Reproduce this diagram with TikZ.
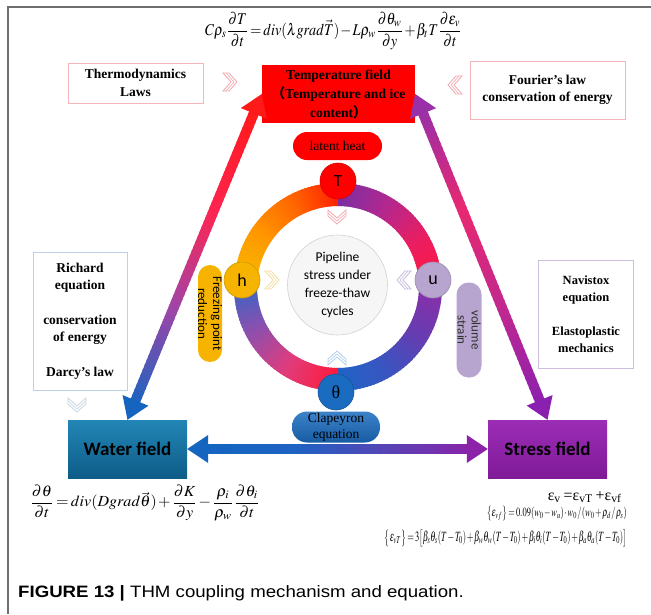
\documentclass[tikz,border=0pt]{standalone}
\usepackage{mathptmx}
\usepackage{fontspec}
\setmainfont{Liberation Serif}
\newfontfamily\carl{Carlito}
\newfontfamily\capfont{Liberation Sans}
\newfontfamily\cjkf{Noto Sans CJK SC}
\usepackage{graphicx}
\usetikzlibrary{calc}

\definecolor{framegray}{HTML}{6E6E6E}
\definecolor{pinkb}{HTML}{F4B4BA}
\definecolor{blueb}{HTML}{BCD2EA}
\definecolor{lavb}{HTML}{CDBEDF}
\definecolor{tred}{HTML}{FF0000}
\definecolor{gold}{HTML}{F6B400}
\definecolor{lav}{HTML}{B7A5CF}
\definecolor{tblue}{HTML}{1A6CC0}
\definecolor{wtop}{HTML}{2286B6}
\definecolor{wbot}{HTML}{0E5C88}
\definecolor{sftop}{HTML}{9C2DB6}
\definecolor{sfbot}{HTML}{7F1A98}
\definecolor{chpink}{HTML}{F4A8B0}
\definecolor{chyel}{HTML}{F5DCA0}
\definecolor{chlav}{HTML}{C9BAE0}
\definecolor{chblue}{HTML}{B2D0EE}
\definecolor{chgray}{HTML}{C8D6E4}
% ring colours
\definecolor{ulA}{HTML}{F7B800}\definecolor{ulB}{HTML}{FF9800}\definecolor{ulC}{HTML}{FF6600}\definecolor{ulD}{HTML}{FF1E00}
\definecolor{urA}{HTML}{7A2EA3}\definecolor{urB}{HTML}{B02890}\definecolor{urC}{HTML}{E81E63}\definecolor{urD}{HTML}{FF1744}
\definecolor{lrA}{HTML}{8E2FA8}\definecolor{lrB}{HTML}{6A3AB0}\definecolor{lrC}{HTML}{3A55C0}\definecolor{lrD}{HTML}{1E64C8}
\definecolor{llA}{HTML}{FF1A3A}\definecolor{llB}{HTML}{E03C7C}\definecolor{llC}{HTML}{8A50B0}\definecolor{llD}{HTML}{2A6AC8}
% arrow colours
\definecolor{laA}{HTML}{FF1A1A}\definecolor{laB}{HTML}{FF2450}\definecolor{laC}{HTML}{A045A8}\definecolor{laD}{HTML}{1565C0}
\definecolor{raA}{HTML}{9A30A8}\definecolor{raB}{HTML}{E82870}\definecolor{raC}{HTML}{C02890}\definecolor{raD}{HTML}{8A20B0}
\definecolor{haA}{HTML}{1565C0}\definecolor{haB}{HTML}{1E62C2}\definecolor{haC}{HTML}{5545B5}\definecolor{haD}{HTML}{8B22A8}

\newcommand\setgcol[5]{%
  \pgfmathsetmacro\mygS{3*#1}%
  \pgfmathtruncatemacro\mygK{min(floor(\mygS),2)}%
  \pgfmathsetmacro\mygF{100*(1-(\mygS-\mygK))}%
  \ifcase\mygK \colorlet{gcol}{#2!\mygF!#3}\or \colorlet{gcol}{#3!\mygF!#4}\or \colorlet{gcol}{#4!\mygF!#5}\fi}

\newcommand\gradarrow[6]{%
  \coordinate (gs1) at ($(#1)!16pt!(#2)$);
  \coordinate (gs2) at ($(#2)!16pt!(#1)$);
  \foreach \i in {0,...,59}{
    \pgfmathsetmacro\myta{\i/60}
    \pgfmathsetmacro\mytb{min((\i+1.6)/60,1)}
    \setgcol{\myta}{#3}{#4}{#5}{#6}
    \draw[line width=10pt, color=gcol] ($(gs1)!\myta!(gs2)$) -- ($(gs1)!\mytb!(gs2)$);
  }
  \coordinate (gh1) at ($(#1)!21pt!(#2)$);
  \fill[#3] (#1) -- ($(gh1)!14pt!90:(#1)$) -- ($(gh1)!14pt!-90:(#1)$) -- cycle;
  \coordinate (gh2) at ($(#2)!21pt!(#1)$);
  \fill[#6] (#2) -- ($(gh2)!14pt!90:(#2)$) -- ($(gh2)!14pt!-90:(#2)$) -- cycle;
}

\newcommand\ringarc[6]{%
  \foreach \i in {0,...,44}{
    \pgfmathsetmacro\myta{\i/45}
    \pgfmathsetmacro\myaa{#1+(#2-#1)*\i/45}
    \pgfmathsetmacro\myab{#1+(#2-#1)*(\i+1.5)/45}
    \setgcol{\myta}{#3}{#4}{#5}{#6}
    \fill[color=gcol] (\myaa:104pt) arc[start angle=\myaa, end angle=\myab, radius=104pt]
      -- (\myab:81pt) arc[start angle=\myab, end angle=\myaa, radius=81pt] -- cycle;
  }}

\newcommand\tightmath{\medmuskip=1.5mu\thickmuskip=2.5mu\thinmuskip=1mu}

\tikzset{
  lawbox/.style={draw, line width=0.9pt, fill=white, align=center, inner sep=0pt,
    font=\bfseries\fontsize{13.5}{17.5}\selectfont},
  fieldbox/.style={align=center, inner sep=0pt, font=\carl\bfseries\fontsize{19}{22}\selectfont,
    minimum width=119pt, minimum height=58pt},
  ball/.style={circle, minimum size=36pt, inner sep=0pt, line width=0.6pt},
  pilltext/.style={inner sep=0pt, align=center},
  eqn/.style={inner sep=0pt},
  chev/.pic={
    \draw[line width=0.8pt, line join=miter] (-7,9) -- (-1,9) -- (7,0) -- (-1,-9) -- (-7,-9) -- (1,0) -- cycle;
    \draw[line width=0.6pt] (-4,9) -- (4,0) -- (-4,-9);
  }
}

\begin{document}
\begin{tikzpicture}[x=1pt,y=1pt]
\useasboundingbox (0,0) rectangle (651,-614);
\fill[white] (0,0) rectangle (651,-614);
\draw[line width=1.4pt, color=framegray] (8,-614) -- (8,-7) -- (651,-7);

% ---- equations
\node[eqn] (eqT) at (333.5,-31) {\resizebox*{257pt}{38pt}{$\tightmath\displaystyle C\rho_s\frac{\partial T}{\partial t}=div(\lambda grad\vec{T})-L\rho_w\frac{\partial\theta_w}{\partial y}+\beta_t T\frac{\partial\varepsilon_v}{\partial t}$}};
\node[eqn] (eqW) at (145,-503) {\resizebox*{230pt}{36pt}{$\tightmath\displaystyle\frac{\partial\theta}{\partial t}=div(Dgrad\vec{\theta})+\frac{\partial K}{\partial y}-\frac{\rho_i}{\rho_w}\frac{\partial\theta_i}{\partial t}$}};
\node[eqn, anchor=east] (eqS1) at (622,-497) {\resizebox{74pt}{!}{ε\textsubscript{v}\,=ε\textsubscript{vT}\,+ε\textsubscript{vf}}};
\node[eqn, anchor=east] (eqS2) at (627,-513) {\resizebox*{140pt}{15pt}{$\tightmath\big\{\varepsilon_{vf}\big\}=0.09(w_0-w_u)\cdot w_0\,/\,(w_0+\rho_d\,/\,\rho_s)$}};
\node[eqn, anchor=east] (eqS3) at (627,-538) {\resizebox*{242pt}{17pt}{$\tightmath\big\{\varepsilon_{vT}\big\}=3\big[\beta_s\theta_s(T-T_0)+\beta_w\theta_w(T-T_0)+\beta_i\theta_i(T-T_0)+\beta_a\theta_a(T-T_0)\big]$}};

% ---- law boxes
\node[lawbox, draw=pinkb, minimum width=135pt, minimum height=40pt] (thermo) at (135.5,-83) {Thermodynamics\\Laws};
\node[lawbox, draw=pinkb, minimum width=155pt, minimum height=58pt] (fourier) at (547.5,-90) {Fourier's law\\conservation of energy};
\node[lawbox, draw=blueb, minimum width=94pt, minimum height=138pt] (richard) at (80,-321) {Richard\\equation\\[17pt]conservation\\of energy\\[17pt]Darcy's law};
\node[lawbox, draw=lavb, minimum width=95pt, minimum height=108pt, font=\bfseries\fontsize{12.5}{17.5}\selectfont] (navi) at (586,-314) {Navistox\\equation\\[16pt]Elastoplastic\\mechanics};

% ---- field boxes
\node[fill=tred, align=center, inner sep=0pt, minimum width=153pt, minimum height=58pt,
  font=\bfseries\fontsize{13.6}{19}\selectfont] (tf) at (338.5,-94)
  {Temperature field\\{\cjkf （}Temperature and ice\\content{\cjkf ）}};
\node[fieldbox, top color=wtop, bottom color=wbot] (wf) at (127.5,-449) {Water field};
\node[fieldbox, top color=sftop, bottom color=sfbot] (sf) at (547.5,-449) {Stress field};

% ---- chevrons
\pic[color=chpink] at (230,-82) {chev};
\pic[color=chpink, rotate=180] at (455,-85) {chev};
\pic[color=chgray, rotate=-90] at (77,-405) {chev};

% ---- ring
\begin{scope}[shift={(338,-287)}]
  \ringarc{176}{90}{ulA}{ulB}{ulC}{ulD}
  \ringarc{90}{4}{urA}{urB}{urC}{urD}
  \ringarc{4}{-90}{lrA}{lrB}{lrC}{lrD}
  \ringarc{-90}{-184}{llA}{llB}{llC}{llD}
\end{scope}

\node[circle, fill=gray!7, draw=gray!35, line width=0.6pt, minimum size=100pt, inner sep=0pt,
  align=center, font=\carl\fontsize{13.5}{18}\selectfont] (cc) at (337.5,-285)
  {Pipeline\\stress under\\freeze-thaw\\cycles};

\pic[color=chpink, rotate=-90] at (337,-217) {chev};
\pic[color=chyel] at (272,-280) {chev};
\pic[color=chlav, rotate=180] at (404,-280) {chev};
\pic[color=chblue, rotate=90] at (337,-358) {chev};

% ---- pills
\node[fill=tred, rounded corners=14pt, minimum width=89pt, minimum height=28pt, inner sep=0pt,
  font=\fontsize{13.5}{15}\selectfont] (lh) at (337.5,-146) {latent heat};
\node[top color=tblue!85!white, bottom color=tblue!85!black, rounded corners=15pt, minimum width=88pt, minimum height=31pt, inner sep=0pt] (cl) at (336,-427) {};
\node[pilltext, font=\fontsize{13.5}{16}\selectfont] (clt) at (cl.center) {Clapeyron\\equation};
\node[fill=gold, rounded corners=12pt, minimum width=24pt, minimum height=97pt, inner sep=0pt] (fp) at (210,-313.5) {};
\node[pilltext, rotate=-90, font=\carl\fontsize{13}{15}\selectfont] (fpt) at (fp.center) {Freezing point\\reduction};
\node[fill=lav, rounded corners=12pt, minimum width=25pt, minimum height=95pt, inner sep=0pt] (vs) at (469,-330) {};
\node[pilltext, rotate=-90, text=black!80, font=\carl\fontsize{13}{14}\selectfont] (vst) at (vs.center) {volume\\strain};

% ---- balls
\node[ball, fill=tred, draw=red!85!black, font=\carl\fontsize{17}{17}\selectfont] (T) at (338,-181) {T};
\node[ball, fill=gold, draw=gold!85!black, font=\carl\fontsize{18}{18}\selectfont] (h) at (242,-280) {h};
\node[ball, fill=lav, draw=lav!85!black, font=\carl\fontsize{18}{18}\selectfont] (u) at (433,-280) {u};
\node[ball, fill=tblue, draw=tblue!80!black, font=\fontsize{18}{18}\selectfont] (th) at (336,-392) {θ};

% ---- arrows
\gradarrow{tf.west}{wf.north}{laA}{laB}{laC}{laD}
\gradarrow{tf.east}{sf.north}{raA}{raB}{raC}{raD}
\gradarrow{wf.east}{sf.west}{haA}{haB}{haC}{haD}

% ---- caption
\node[anchor=base west, inner sep=0pt, font=\capfont\fontsize{16.5}{18}\selectfont] (cap) at (18,-597)
  {\scalebox{1.13}[1]{\textbf{FIGURE 13 |} THM coupling mechanism and equation.}};
\end{tikzpicture}
\end{document}
